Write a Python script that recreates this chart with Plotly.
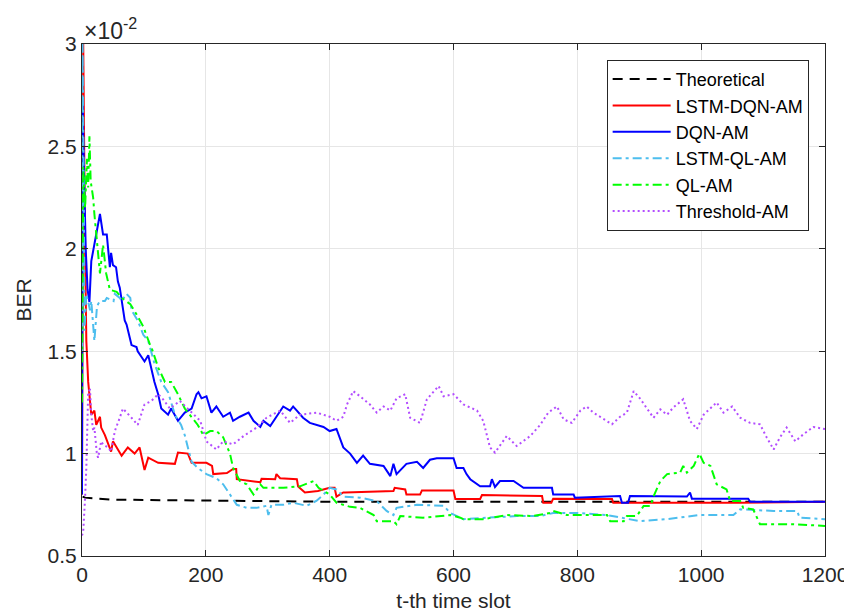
import plotly.graph_objects as go

# ---------------- data (BER in units of 1e-2) ----------------
t_theo = [1, 5, 50, 200, 400, 600, 800, 1000, 1200]
ber_theo = [0.79, 0.785, 0.775, 0.77, 0.765, 0.765, 0.765, 0.765, 0.765]

t_red = [0, 2, 5, 7, 10, 15, 20, 23, 29, 31,
         37, 47, 50, 64, 74, 85, 93, 101, 107, 123,
         150, 155, 171, 177, 201, 210, 212, 234, 244, 249,
         250, 282, 288, 290, 312, 314, 320, 347, 349, 360,
         381, 400, 408, 411, 422, 425, 503, 505, 522, 524,
         546, 549, 600, 603, 643, 646, 743, 745, 758, 761,
         856, 858, 1063, 1200]
ber_red = [0.8, 3.0, 2.0, 1.55, 1.35, 1.19, 1.21, 1.14, 1.18, 1.127,
           1.09, 1.01, 1.06, 0.99, 1.03, 1.0, 1.03, 0.92, 0.98, 0.955,
           0.95, 1.005, 1.0, 0.955, 0.955, 0.94, 0.90, 0.905, 0.925, 0.925,
           0.875, 0.86, 0.86, 0.877, 0.875, 0.90, 0.88, 0.875, 0.84, 0.81,
           0.817, 0.833, 0.833, 0.79, 0.81, 0.81, 0.817, 0.833, 0.825, 0.80,
           0.80, 0.82, 0.82, 0.778, 0.778, 0.798, 0.793, 0.76, 0.76, 0.78,
           0.778, 0.76, 0.76, 0.765]

t_blue = [0, 1, 3, 6, 9, 12, 15, 21, 29, 34,
          37, 40, 45, 47, 50, 55, 58, 61, 69, 72,
          80, 88, 90, 101, 107, 117, 123, 128, 139, 144,
          155, 166, 177, 185, 188, 193, 201, 209, 217, 228,
          239, 244, 255, 269, 277, 288, 293, 304, 314, 325,
          336, 341, 347, 357, 368, 379, 390, 400, 411, 422,
          433, 444, 454, 465, 487, 498, 503, 508, 524, 541,
          551, 562, 573, 600, 605, 616, 621, 627, 643, 659,
          662, 667, 670, 675, 697, 713, 759, 761, 794, 796,
          869, 872, 882, 885, 977, 982, 985, 1076, 1079, 1200]
ber_blue = [0.8, 2.72, 2.4, 2.0, 1.8, 1.74, 1.94, 2.04, 2.17, 2.07,
            2.07, 2.07, 1.91, 1.98, 1.92, 1.91, 1.84, 1.81, 1.65, 1.63,
            1.53, 1.52, 1.50, 1.45, 1.48, 1.35, 1.29, 1.22, 1.19, 1.22,
            1.16, 1.20, 1.22, 1.29, 1.30, 1.27, 1.28, 1.20, 1.23, 1.18,
            1.20, 1.16, 1.18, 1.20, 1.16, 1.13, 1.16, 1.135, 1.18, 1.23,
            1.21, 1.23, 1.21, 1.175, 1.15, 1.14, 1.13, 1.11, 1.12, 1.03,
            1.0, 0.955, 0.99, 0.95, 0.94, 0.89, 0.95, 0.90, 0.95, 0.96,
            0.93, 0.97, 0.977, 0.977, 0.93, 0.93, 0.90, 0.875, 0.84, 0.84,
            0.875, 0.837, 0.85, 0.866, 0.866, 0.833, 0.833, 0.80, 0.80, 0.785,
            0.793, 0.76, 0.76, 0.793, 0.79, 0.81, 0.78, 0.78, 0.765, 0.765]

t_lql = [0, 1, 3, 4, 7, 13, 15, 18, 20, 24,
         26, 29, 37, 40, 51, 53, 61, 64, 72, 78,
         80, 88, 90, 99, 107, 117, 128, 139, 150, 160,
         166, 171, 177, 187, 201, 217, 228, 239, 250, 266,
         282, 298, 301, 306, 325, 341, 363, 379, 390, 400,
         411, 422, 449, 476, 492, 503, 508, 541, 584, 595,
         616, 648, 702, 740, 761, 799, 848, 901, 945, 998,
         1052, 1063, 1117, 1155, 1159, 1200]
ber_lql = [1.5, 3.0, 2.2, 1.6, 1.78, 1.70, 1.745, 1.60, 1.55, 1.71,
           1.73, 1.745, 1.745, 1.76, 1.745, 1.78, 1.76, 1.745, 1.78, 1.76,
           1.70, 1.66, 1.65, 1.58, 1.55, 1.44, 1.35, 1.30, 1.19, 1.14,
           1.09, 1.03, 0.96, 0.93, 0.90, 0.88, 0.85, 0.80, 0.75, 0.735,
           0.735, 0.745, 0.70, 0.75, 0.75, 0.76, 0.745, 0.77, 0.80, 0.833,
           0.825, 0.79, 0.785, 0.768, 0.72, 0.70, 0.735, 0.75, 0.745, 0.71,
           0.68, 0.686, 0.695, 0.695, 0.71, 0.71, 0.70, 0.67, 0.68, 0.70,
           0.70, 0.728, 0.72, 0.72, 0.687, 0.68]

t_ql = [0, 2, 5, 8, 10, 12, 14, 18, 20, 24,
        26, 29, 34, 39, 45, 56, 64, 78, 88, 99,
        110, 112, 123, 134, 144, 155, 166, 177, 187, 196,
        207, 217, 228, 239, 244, 255, 266, 277, 288, 293,
        325, 352, 374, 382, 400, 411, 433, 449, 471, 476,
        503, 508, 514, 551, 595, 611, 616, 648, 686, 727,
        756, 761, 783, 848, 853, 875, 880, 896, 907, 918,
        923, 934, 945, 966, 971, 977, 988, 997, 1004, 1015,
        1025, 1041, 1047, 1063, 1068, 1084, 1095, 1149, 1200]
ber_ql = [1.25, 2.40, 2.2, 2.44, 2.3, 2.55, 2.33, 2.25, 2.17, 2.04,
          1.97, 1.88, 2.02, 1.88, 1.80, 1.79, 1.76, 1.73, 1.68, 1.62,
          1.53, 1.52, 1.42, 1.35, 1.35, 1.29, 1.22, 1.175, 1.14, 1.09,
          1.11, 1.11, 1.08, 1.00, 0.93, 0.866, 0.85, 0.80, 0.85, 0.833,
          0.833, 0.84, 0.866, 0.833, 0.80, 0.76, 0.74, 0.735, 0.70, 0.67,
          0.67, 0.655, 0.695, 0.687, 0.70, 0.687, 0.68, 0.68, 0.70, 0.695,
          0.71, 0.72, 0.70, 0.70, 0.67, 0.67, 0.695, 0.695, 0.744, 0.744,
          0.79, 0.866, 0.90, 0.907, 0.94, 0.907, 0.94, 1.0, 0.955, 0.94,
          0.85, 0.825, 0.768, 0.768, 0.735, 0.728, 0.655, 0.655, 0.647]

t_thr = [0, 2, 5, 7, 10, 13, 15, 18, 20, 24,
         26, 31, 34, 42, 47, 53, 61, 66, 80, 90,
         101, 112, 123, 131, 142, 158, 174, 191, 201, 217,
         228, 244, 261, 282, 298, 320, 336, 352, 379, 400,
         411, 422, 428, 438, 449, 465, 476, 487, 498, 508,
         522, 530, 546, 557, 576, 584, 600, 616, 638, 648,
         659, 667, 686, 702, 724, 740, 753, 767, 778, 791,
         805, 815, 826, 848, 856, 869, 880, 891, 901, 923,
         934, 945, 955, 971, 982, 993, 1004, 1025, 1036, 1050,
         1063, 1079, 1095, 1106, 1117, 1127, 1138, 1152, 1165, 1181,
         1200]
ber_thr = [0.6, 0.62, 0.785, 0.93, 1.305, 1.31, 1.19, 1.11, 1.127, 1.0,
           0.98, 1.06, 1.045, 1.03, 1.01, 1.11, 1.175, 1.22, 1.175, 1.14,
           1.24, 1.257, 1.29, 1.265, 1.22, 1.257, 1.21, 1.16, 1.06, 1.02,
           1.06, 1.045, 1.086, 1.127, 1.175, 1.21, 1.15, 1.19, 1.20, 1.18,
           1.16, 1.18, 1.24, 1.305, 1.28, 1.24, 1.20, 1.23, 1.21, 1.27,
           1.29, 1.175, 1.15, 1.265, 1.33, 1.28, 1.29, 1.24, 1.21, 1.16,
           1.03, 1.005, 1.086, 1.037, 1.086, 1.14, 1.20, 1.23, 1.167, 1.15,
           1.21, 1.23, 1.20, 1.16, 1.143, 1.18, 1.20, 1.305, 1.27, 1.175,
           1.216, 1.19, 1.225, 1.265, 1.16, 1.12, 1.19, 1.25, 1.20, 1.23,
           1.175, 1.15, 1.143, 1.078, 1.02, 1.078, 1.127, 1.06, 1.094, 1.13,
           1.12]

x_ticks = [0, 200, 400, 600, 800, 1000, 1200]
y_ticks = [0.5, 1, 1.5, 2, 2.5, 3]
y_ticktext = ["0.5", "1", "1.5", "2", "2.5", "3"]

series = [
    ("Theoretical", t_theo, ber_theo, "#000000", "10px,7px"),
    ("LSTM-DQN-AM", t_red, ber_red, "#FF0000", "solid"),
    ("DQN-AM", t_blue, ber_blue, "#0000FF", "solid"),
    ("LSTM-QL-AM", t_lql, ber_lql, "#4DBEEE", "9px,4px,3px,4px"),
    ("QL-AM", t_ql, ber_ql, "#00FF00", "9px,4px,3px,4px"),
    ("Threshold-AM", t_thr, ber_thr, "#B34DFF", "2px,3px"),
]

fig = go.Figure()
for name, tx, vy, col, dash in series:
    fig.add_trace(go.Scatter(x=tx, y=vy, mode="lines", name=name,
                             line=dict(color=col, width=2, dash=dash)))

FONT = "Liberation Sans, Arial, Helvetica, sans-serif"
# the page body adds an 8px offset, so the figure is 8px smaller and margins shifted
fig.update_layout(
    width=844, height=606,
    margin=dict(l=74, r=27, t=36, b=58, autoexpand=False),
    plot_bgcolor="white", paper_bgcolor="white",
    font=dict(family=FONT, size=21, color="#262626"),
    showlegend=True,
    legend=dict(x=0.978, y=0.969, xanchor="right", yanchor="top",
                bgcolor="white", bordercolor="#262626", borderwidth=1,
                font=dict(family=FONT, size=18, color="#000000"),
                itemwidth=58, tracegroupgap=0),
    annotations=[dict(x=0, y=1, xref="paper", yref="paper",
                      xanchor="left", yanchor="bottom", yshift=-2,
                      text="×10<sup>-2</sup>", showarrow=False,
                      font=dict(family=FONT, size=23, color="#262626"))],
)
fig.update_xaxes(range=[0, 1200], tickvals=x_ticks, showgrid=True,
                 gridcolor="#e6e6e6", gridwidth=1, zeroline=False,
                 showline=True, linecolor="#262626", linewidth=1, mirror="ticks",
                 ticks="inside", ticklen=6, tickcolor="#262626", automargin=False,
                 title=dict(text="t-th time slot", standoff=8,
                            font=dict(size=21)))
fig.update_yaxes(range=[0.5, 3], tickvals=y_ticks, ticktext=y_ticktext,
                 showgrid=True, gridcolor="#e6e6e6", gridwidth=1, zeroline=False,
                 showline=True, linecolor="#262626", linewidth=1, mirror="ticks",
                 ticks="inside", ticklen=6, tickcolor="#262626", automargin=False,
                 title=dict(text="BER", standoff=10, font=dict(size=21)))

fig.write_html("out.html")
